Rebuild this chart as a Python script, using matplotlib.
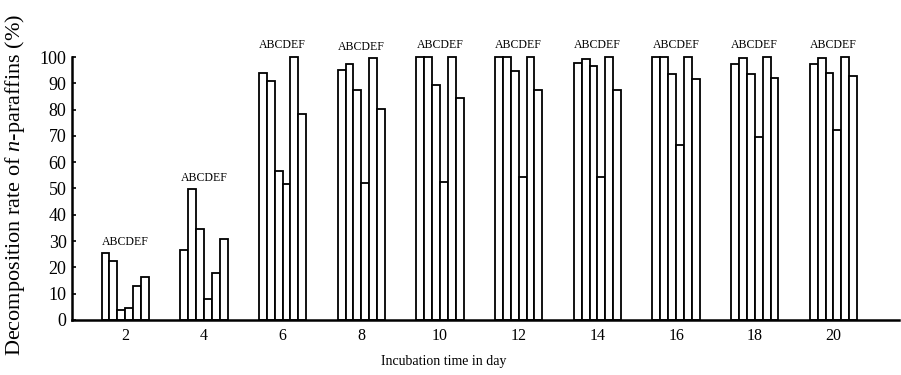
import numpy as np
import matplotlib
matplotlib.use('Agg')
import matplotlib.pyplot as plt

plt.rcParams['font.family'] = 'Liberation Serif'
plt.rcParams['mathtext.fontset'] = 'custom'
plt.rcParams['mathtext.it'] = 'Liberation Serif:italic'
plt.rcParams['mathtext.rm'] = 'Liberation Serif'

days = [2, 4, 6, 8, 10, 12, 14, 16, 18, 20]
series = ['A', 'B', 'C', 'D', 'E', 'F']
rate_A = [25.4, 26.6, 93.9, 94.9, 100, 100, 97.7, 100, 97.2, 97.2]
rate_B = [22.3, 49.7, 90.8, 97.4, 100, 100, 99.4, 100, 99.5, 99.5]
rate_C = [3.8, 34.4, 56.7, 87.4, 89.4, 94.5, 96.7, 93.5, 93.5, 94.1]
rate_D = [4.6, 8.0, 51.8, 51.9, 52.3, 54.4, 54.4, 66.5, 69.5, 72.2]
rate_E = [12.8, 17.8, 100, 99.6, 100, 100, 100, 100, 100, 100]
rate_F = [16.3, 30.8, 78.2, 80.2, 84.4, 87.4, 87.4, 91.6, 92.2, 92.6]

rates = [rate_A, rate_B, rate_C, rate_D, rate_E, rate_F]

fig = plt.figure(figsize=(9.01, 3.75), dpi=100)
ax = fig.add_axes([0.08, 0.147, 0.918, 0.785])

w = 0.2
x = np.array(days, dtype=float)
for i, vals in enumerate(rates):
    ax.bar(x + (i - 2.5) * w, vals, width=w, color='white',
           edgecolor='black', linewidth=1.3, zorder=2)

# group label sits just above the tallest bar
tops = np.max(np.array(rates), axis=0)
for d, t in zip(days, tops):
    ax.annotate(''.join(series), (d, t), xytext=(0, 4), textcoords='offset points',
                ha='center', va='bottom', fontsize=8.5)

ax.set_xlim(0.65, 21.67)
ax.set_ylim(0, 112)
ax.set_xticks(days)
ax.set_yticks(range(0, 101, 10))
ax.tick_params(axis='x', length=0, labelsize=11.5, pad=6)
ax.tick_params(axis='y', direction='in', length=3, width=1.2, labelsize=13, pad=4)
for s in ['top', 'right']:
    ax.spines[s].set_visible(False)
ax.spines['left'].set_bounds(0, 100)
ax.spines['left'].set_linewidth(1.8)
ax.spines['bottom'].set_linewidth(1.8)

ax.set_xlabel('Incubation time in day', fontsize=10)
ax.xaxis.set_label_coords(0.449, -0.12)
ax.set_ylabel('Decomposition rate of $n$-paraffins (%)', fontsize=16)
ax.yaxis.set_label_coords(-0.054, 0.459)

fig.savefig('out.png', dpi=100)
